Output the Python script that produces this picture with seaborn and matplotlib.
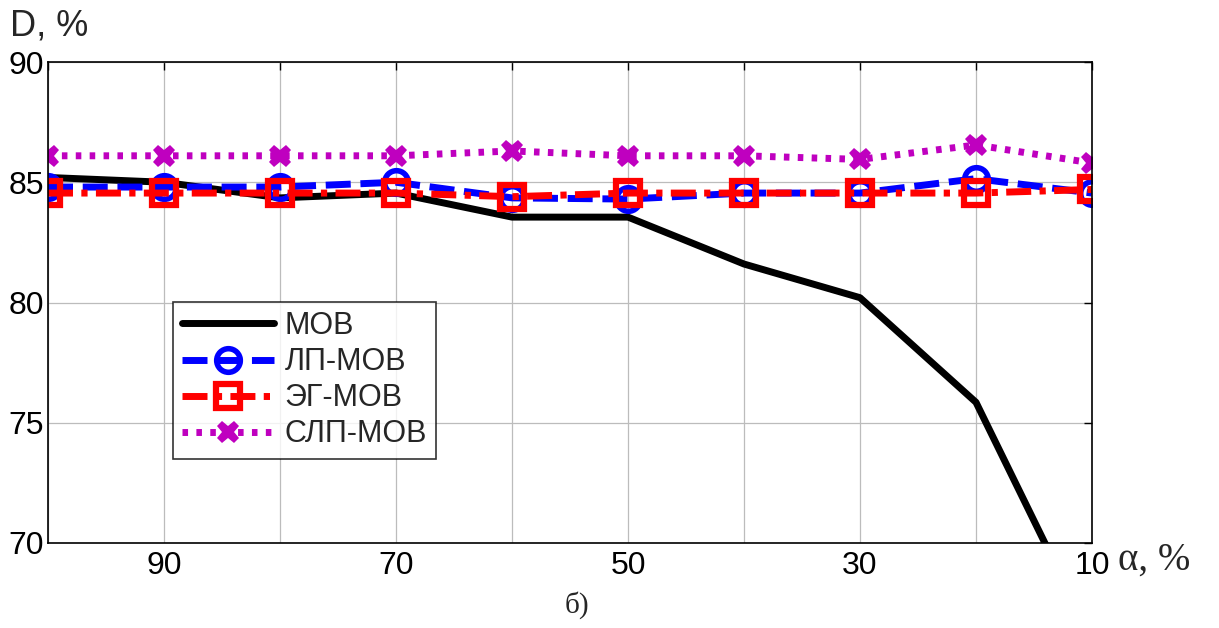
import numpy as np
import pandas as pd
import matplotlib
matplotlib.use("Agg")
import matplotlib.pyplot as plt
import seaborn as sns

alpha = [100, 90, 80, 70, 60, 50, 40, 30, 20, 10]
mov = [85.2, 85.0, 84.35, 84.55, 83.55, 83.55, 81.6, 80.2, 75.85, 66.0]
lp_mov = [84.8, 84.8, 84.8, 85.0, 84.35, 84.3, 84.55, 84.55, 85.15, 84.55]
eg_mov = [84.55, 84.55, 84.55, 84.55, 84.4, 84.55, 84.55, 84.55, 84.55, 84.7]
slp_mov = [86.1, 86.1, 86.1, 86.1, 86.3, 86.1, 86.1, 85.95, 86.55, 85.8]
series_names = ["МОВ", "ЛП-МОВ", "ЭГ-МОВ", "СЛП-МОВ"]
xticks = [90, 70, 50, 30, 10]
yticks = [70, 75, 80, 85, 90]

sns.set_style("white")
plt.rcParams['font.family'] = ['Liberation Sans', 'DejaVu Sans']

fig = plt.figure(figsize=(12.19, 6.28), dpi=100)
ax = fig.add_axes([48/1219, 1-543/628, (1092-48)/1219, (543-62)/628])

df = pd.DataFrame({"alpha": alpha * 4,
                   "D": mov + lp_mov + eg_mov + slp_mov,
                   "series": sum([[n] * len(alpha) for n in series_names], [])})

styles = {
    "МОВ": dict(color="black", ls="-", marker=None),
    "ЛП-МОВ": dict(color=(0, 0, 1), ls=(0, (3.6, 1.4)), marker="o"),
    "ЭГ-МОВ": dict(color=(1, 0, 0), ls=(0, (3.6, 1.2, 0.9, 1.2)), marker="s"),
    "СЛП-МОВ": dict(color=(0.75, 0, 0.75), ls=(0, (0.8, 1.2)), marker="X"),
}
for name in series_names:
    st = styles[name]
    sub = df[df.series == name]
    kw = dict(linewidth=5, color=st["color"], linestyle=st["ls"], label=name)
    if st["marker"] == "o":
        kw.update(marker="o", markersize=17, markerfacecolor="none",
                  markeredgewidth=4, markeredgecolor=st["color"])
    elif st["marker"] == "s":
        kw.update(marker="s", markersize=17, markerfacecolor="none",
                  markeredgewidth=4.5, markeredgecolor=st["color"])
    elif st["marker"] == "X":
        kw.update(marker="X", markersize=16, markerfacecolor=st["color"],
                  markeredgewidth=0, markeredgecolor=st["color"])
    sns.lineplot(data=sub, x="alpha", y="D", ax=ax, sort=False, legend=False,
                 estimator=None, **kw)

ax.set_xlim(100, 10)
ax.set_ylim(70, 90)
ax.set_xticks(list(range(100, 9, -10)))
ax.set_xticklabels([str(v) if v in xticks else "" for v in range(100, 9, -10)])
ax.set_yticks(yticks)
ax.set_yticklabels([str(v) for v in yticks])
ax.grid(True, color="#bcbcbc", linewidth=0.9)
ax.tick_params(direction="in", length=6, width=1, top=True, right=True,
               labelsize=23, colors="black")
ax.tick_params(axis="y", pad=3)
ax.tick_params(axis="x", pad=6)
for s in ax.spines.values():
    s.set_color("black")
    s.set_linewidth(1.2)
ax.set_xlabel("")
ax.set_ylabel("")

leg = ax.legend(loc="upper left", bbox_to_anchor=(125/1044, 1 - (302-62)/481),
                fontsize=22, frameon=True, fancybox=False, edgecolor="black",
                handlelength=3.0, handletextpad=0.35, borderpad=0.3,
                labelspacing=0.2, borderaxespad=0)
leg.get_frame().set_linewidth(1.2)

fig.text(10/1219, 1-26/628, "D, %", fontsize=26, va="center", ha="left")
fig.text(1118/1219, 1-560/628, "α, %", fontsize=28, va="center", ha="left",
         family=["Liberation Serif", "DejaVu Serif"])
fig.text(577/1219, 1-605/628, "б)", fontsize=21, va="center", ha="center",
         family=["Liberation Serif", "DejaVu Serif"])

fig.savefig("out.png", dpi=100)
